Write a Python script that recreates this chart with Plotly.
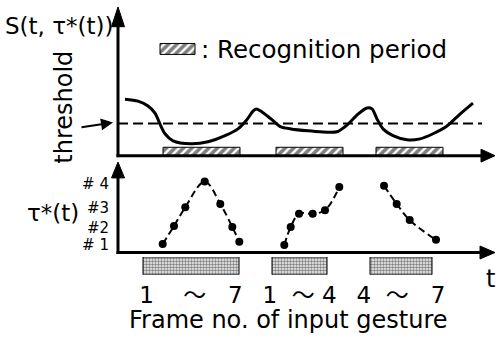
import plotly.graph_objects as go

W, H = 496, 338

# ---------------- data ----------------
# top panel: similarity S(t, tau*(t)) along time t (arbitrary units)
curve_t = [7, 20, 30, 37, 42, 47, 55, 73, 90, 107, 120, 128, 135, 138, 143, 153, 163, 173, 190,
           202, 219, 229, 240, 249, 254, 259, 265, 275, 289, 302, 315, 329, 342, 355]
curve_s = [1.75, 1.69, 1.54, 1.32, 0.98, 0.68, 0.46, 0.37, 0.43, 0.62, 0.83, 1.08, 1.38, 1.45, 1.38,
           1.14, 0.89, 0.83, 0.77, 0.74, 0.74, 0.95, 1.29, 1.48, 1.45, 1.14, 0.83, 0.62, 0.49, 0.52,
           0.68, 0.92, 1.29, 1.63]
threshold_t = [0, 364]
threshold_s = [1.0, 1.0]

# recognition periods (hatched bars)
rec_start = [45, 158, 258]
rec_end = [122, 225, 325]
rec_height = 0.26

# legend key for the hatched bar
key_start, key_end = 42, 77
key_base, key_top = 3.14, 3.48

# bottom panel: tau*(t) points, three gestures
g1_t = [44.7, 56, 67.3, 86.7, 102.3, 114.3, 121.3]
g1_v = [0.43, 1.34, 2.29, 3.59, 2.46, 1.29, 0.54]
g2_t = [166.3, 172.7, 181, 194.7, 207, 221.3]
g2_v = [0.38, 1.29, 1.96, 1.96, 2.14, 3.31]
g3_t = [266, 278.7, 291.7, 318]
g3_v = [3.38, 2.46, 1.64, 0.64]

tau_tickvals = [0.375, 1.275, 2.275, 3.475]
tau_ticktext = ["# 1", "#2", "#3", "# 4"]

# input frame blocks (stippled bars)
frame_start = [25, 154, 252]
frame_end = [121, 209, 314]
frame_labels = ["1\u00a0\u00a0\u00a0\u00a0～\u00a0\u00a0\u00a07",
                "1\u00a0\u00a0～\u00a04",
                "4\u00a0\u00a0～\u00a0\u00a0\u00a07"]

FONT = "DejaVu Sans, Noto Sans CJK JP"


def px(x):
    return x / W


def py(y):
    return 1 - y / H


fig = go.Figure()

# top curve
fig.add_trace(go.Scatter(x=curve_t, y=curve_s, mode="lines",
                         line=dict(color="black", width=3, shape="spline", smoothing=0.8),
                         xaxis="x", yaxis="y", hoverinfo="skip"))
# threshold
fig.add_trace(go.Scatter(x=threshold_t, y=threshold_s, mode="lines",
                         line=dict(color="black", width=2, dash="10px,5px"),
                         xaxis="x", yaxis="y", hoverinfo="skip"))
# recognition period bars
rec_center = [(a + b) / 2 for a, b in zip(rec_start, rec_end)]
rec_width = [b - a for a, b in zip(rec_start, rec_end)]
hatch = dict(color="white", line=dict(color="black", width=1),
             pattern=dict(shape="/", fgcolor="black", bgcolor="white", size=6, solidity=0.6))
fig.add_trace(go.Bar(x=rec_center, y=[rec_height] * len(rec_center), base=0, width=rec_width,
                     marker=hatch, xaxis="x", yaxis="y", hoverinfo="skip"))
# legend key
fig.add_trace(go.Bar(x=[(key_start + key_end) / 2], y=[key_top - key_base], base=key_base,
                     width=[key_end - key_start], marker=hatch, xaxis="x", yaxis="y", hoverinfo="skip"))

# tau* points
for gt, gv in ((g1_t, g1_v), (g2_t, g2_v), (g3_t, g3_v)):
    fig.add_trace(go.Scatter(x=gt, y=gv, mode="lines+markers",
                             line=dict(color="black", width=2, dash="7px,4px", shape="spline"),
                             marker=dict(color="black", size=8),
                             xaxis="x2", yaxis="y2", hoverinfo="skip"))

# stippled frame bars
frame_center = [(a + b) / 2 for a, b in zip(frame_start, frame_end)]
frame_width = [b - a for a, b in zip(frame_start, frame_end)]
fig.add_trace(go.Bar(x=frame_center, y=[1] * len(frame_center), base=0, width=frame_width,
                     marker=dict(color="white", line=dict(color="black", width=1),
                                 pattern=dict(shape=".", fgcolor="black", bgcolor="white",
                                              size=3, solidity=0.6)),
                     xaxis="x3", yaxis="y3", hoverinfo="skip"))

xdom = [px(118), px(482)]
hidden = dict(showgrid=False, zeroline=False, showline=False, showticklabels=False, ticks="")

fig.update_layout(
    width=W, height=H, margin=dict(l=0, r=0, t=0, b=0),
    paper_bgcolor="white", plot_bgcolor="rgba(0,0,0,0)",
    showlegend=False, barmode="overlay",
    font=dict(family=FONT, color="black"),
    xaxis=dict(domain=xdom, range=[0, 364], **hidden),
    yaxis=dict(domain=[py(155.5), py(25)], range=[0, 130 / 32.5], **hidden),
    xaxis2=dict(domain=xdom, range=[0, 364], anchor="y2", **hidden),
    yaxis2=dict(domain=[py(253.5), py(177)], range=[0, 76.5 / 20], anchor="x2",
                showgrid=False, zeroline=False, showline=False, ticks="",
                tickvals=tau_tickvals, ticktext=tau_ticktext, ticklabelstandoff=8,
                tickfont=dict(size=15, family=FONT)),
    xaxis3=dict(domain=xdom, range=[0, 364], anchor="y3",
                showgrid=False, zeroline=False, showline=False, ticks="",
                tickvals=frame_center, ticktext=frame_labels, ticklabelstandoff=4,
                tickfont=dict(size=23, family=FONT)),
    yaxis3=dict(domain=[py(276), py(258)], range=[0, 1], anchor="x3", **hidden),
)

# axes drawn as arrows
shapes = []
ln = dict(color="black", width=3)


def seg(x0, y0, x1, y1):
    shapes.append(dict(type="line", xref="paper", yref="paper",
                       x0=px(x0), y0=py(y0), x1=px(x1), y1=py(y1), line=ln))


def tri(p):
    path = "M " + " L ".join(f"{px(a)},{py(b)}" for a, b in p) + " Z"
    shapes.append(dict(type="path", xref="paper", yref="paper", path=path,
                       fillcolor="black", line=dict(color="black", width=1)))


seg(118, 157, 118, 24)
tri([(118, 5), (111.5, 25), (124.5, 25)])
seg(116.5, 155.5, 482, 155.5)
tri([(495, 155.5), (481, 149), (481, 162)])
seg(118, 255, 118, 176)
tri([(118, 162), (111.5, 178), (124.5, 178)])
seg(116.5, 253.5, 481, 253.5)
tri([(495, 253.5), (480, 247), (480, 260)])
fig.update_layout(shapes=shapes)

ann = [
    dict(text="S(t, τ*(t))", x=px(59), y=py(24), font=dict(size=23)),
    dict(text="threshold", x=px(64), y=py(107), textangle=-90, font=dict(size=24)),
    dict(text=": Recognition period", x=px(199), y=py(48), xanchor="left", font=dict(size=24.5)),
    dict(text="τ*(t)", x=px(53), y=py(214), font=dict(size=23)),
    dict(text="t", x=px(490), y=py(280), font=dict(size=24)),
    dict(text="Frame no. of input gesture", x=px(288), y=py(322), font=dict(size=24)),
    dict(text="", x=px(113), y=py(122), ax=-33, ay=5, showarrow=True,
         arrowhead=2, arrowwidth=2, arrowsize=1.2, arrowcolor="black"),
]
for a in ann:
    a.setdefault("xref", "paper")
    a.setdefault("yref", "paper")
    a.setdefault("showarrow", False)
    a.setdefault("xanchor", "center")
    a.setdefault("yanchor", "middle")
fig.update_layout(annotations=ann)

fig.write_html("out.html", config={"displayModeBar": False},
               post_script="document.body.style.margin='0';document.body.style.overflow='hidden';")
